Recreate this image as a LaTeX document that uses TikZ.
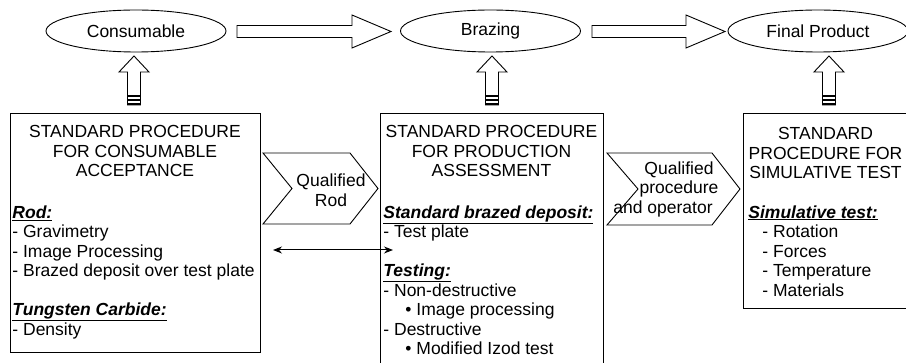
\documentclass[tikz,border=0pt]{standalone}
\usepackage{fontspec}
\setmainfont{Liberation Sans}
\usetikzlibrary{shapes.geometric,calc,arrows.meta}
\newcommand\myhead[1]{\textbf{\textit{\underline{#1}}}}
\begin{document}
\begin{tikzpicture}[x=1pt,y=-1pt,
  font=\fontsize{17.5pt}{19.5pt}\selectfont,
  line width=0.9pt,
  proc/.style={draw, rectangle, inner sep=0pt},
  oval/.style={draw, ellipse, minimum width=180pt, minimum height=42pt, inner sep=0pt},
  blk/.style={draw, fill=white, line width=0.9pt, line join=miter},
  title/.style={align=center, inner sep=0pt, anchor=north},
  lst/.style={align=left, inner sep=0pt, anchor=north west},
  lbl/.style={align=center, inner sep=0pt},
  dbl/.style={{Stealth[length=9pt,width=7pt]}-{Stealth[length=9pt,width=7pt]}, line width=1pt}
]
\useasboundingbox (0,0) rectangle (906,363);
\clip (0,0) rectangle (906,363);

% top ellipses
\node[oval] (e1) at (136,31) {Consumable};
\node[oval] (e2) at (490.5,31) {Brazing};
\node[oval] (e3) at (818,31) {Final Product};

% horizontal block arrows
\coordinate (h1s) at (237,31.5);
\coordinate (h1e) at (391,31.5);
\coordinate (h2s) at (592,31.5);
\coordinate (h2e) at (725,31.5);
\foreach \s/\e in {h1s/h1e,h2s/h2e}{
  \draw[blk] ($(\s)+(0,-6)$) -- ($(\e)+(-39,-6)$) -- ($(\e)+(-39,-16.5)$) -- (\e)
    -- ($(\e)+(-39,16.5)$) -- ($(\e)+(-39,6)$) -- ($(\s)+(0,6)$) -- cycle;
}

% boxes
\node[proc, minimum width=250pt, minimum height=239pt] (b1) at (135,232.5) {};
\node[proc, minimum width=223pt, minimum height=267pt] (b2) at (491.5,246.5) {};
\node[proc, minimum width=165pt, minimum height=195pt] (b3) at (825.5,210.5) {};

% vertical block arrows with striped base
\foreach \x in {134,492,829}{
  \draw[blk] (\x-6.5,105) -- (\x-6.5,72) -- (\x-15,72) -- (\x,56) -- (\x+15,72)
    -- (\x+6.5,72) -- (\x+6.5,105) -- cycle;
  \fill (\x-6.5,95.3) rectangle (\x+6.5,96.7);
  \fill (\x-6.5,99) rectangle (\x+6.5,101);
  \fill (\x-6.5,103) rectangle (\x+6.5,105.4);
}

% box texts
\node[title] (t1) at (135,125) {STANDARD PROCEDURE\\FOR CONSUMABLE\\ACCEPTANCE};
\node[lst] (l1) at (12,205) {\myhead{Rod:}\\- Gravimetry\\- Image Processing\\- Brazed deposit over test plate\\[19.5pt]\myhead{Tungsten Carbide:}\\- Density};

\node[title] (t2) at (491.5,125) {STANDARD PROCEDURE\\FOR PRODUCTION\\ASSESSMENT};
\node[lst] (l2) at (383,205) {\myhead{Standard brazed deposit:}\\- Test plate\\[19.5pt]\myhead{Testing:}\\- Non-destructive\\\hspace*{22pt}• Image processing\\- Destructive\\\hspace*{22pt}• Modified Izod test};

\node[title] (t3) at (825.5,127) {STANDARD\\PROCEDURE FOR\\SIMULATIVE TEST};
\node[lst] (l3) at (748,205) {\myhead{Simulative test:}\\\hspace*{14pt}- Rotation\\\hspace*{14pt}- Forces\\\hspace*{14pt}- Temperature\\\hspace*{14pt}- Materials};

% chevrons
\draw[blk] (263,153) -- (350,153) -- (378,188.5) -- (350,224) -- (263,224) -- (292,188.5) -- cycle;
\node[lbl] (q1) at (331,190) {Qualified\\Rod};
\draw[blk] (607,153) -- (712,153) -- (740,189) -- (712,225) -- (607,225) -- (638,189) -- cycle;
\node[lbl] (q2) at (679,189) {Qualified\\procedure\\and operator\hspace*{32pt}};

% double arrow
\coordinate (dl) at (273,250);
\coordinate (dr) at (393,250);
\draw[dbl] (dl) -- (dr);
\end{tikzpicture}
\end{document}
